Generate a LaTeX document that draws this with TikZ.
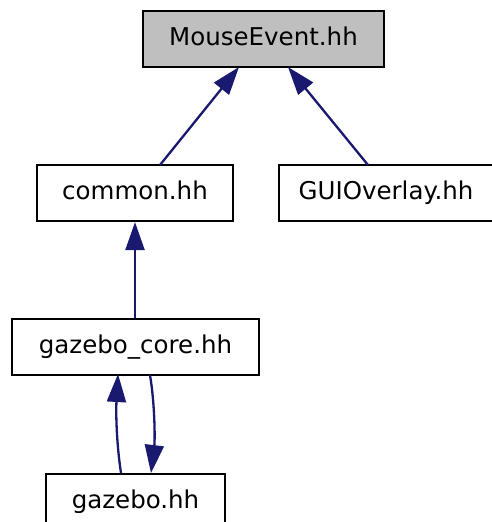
\documentclass[tikz,border=0pt]{standalone}
\usepackage{fontspec}
\setmainfont{DejaVu Sans}
\usetikzlibrary{arrows.meta}
\definecolor{edgeblue}{HTML}{191970}
\begin{document}
\begin{tikzpicture}[x=1pt,y=-1pt,
  box/.style={draw=black,line width=2.2pt,inner sep=0pt,text height=17.5pt,text depth=5.5pt,font=\fontsize{24.5}{29}\selectfont},
  edge/.style={draw=edgeblue,line width=2.3pt,-{Triangle[length=28pt,width=19pt]}}]
\useasboundingbox (0,0) rectangle (492,522);
\node[box,fill={rgb,255:red,191;green,191;blue,191},minimum width=241pt,minimum height=56pt] (me) at (263.5,39) {MouseEvent.hh};
\node[box,minimum width=196pt,minimum height=56pt] (common) at (135,193) {common.hh};
\node[box,minimum width=214pt,minimum height=56pt] (gui) at (386,193) {GUIOverlay.hh};
\node[box,minimum width=247pt,minimum height=56pt] (core) at (135.5,347) {gazebo\_core.hh};
\node[box,minimum width=179pt,minimum height=56pt,anchor=north] (gz) at (135.5,473) {gazebo.hh};
\coordinate (meL) at (239,67);
\coordinate (meR) at (288,67);
\draw[edge] (160,165) -- (meL);
\draw[edge] (368,165) -- (meR);
\draw[edge] (common.south |- core.north) -- (common.south);
\draw[edge] (121,473) .. controls (116,440) and (116,410) .. (118,374);
\draw[edge] (150,375) .. controls (155,405) and (155,440) .. (151,473);
\end{tikzpicture}
\end{document}
